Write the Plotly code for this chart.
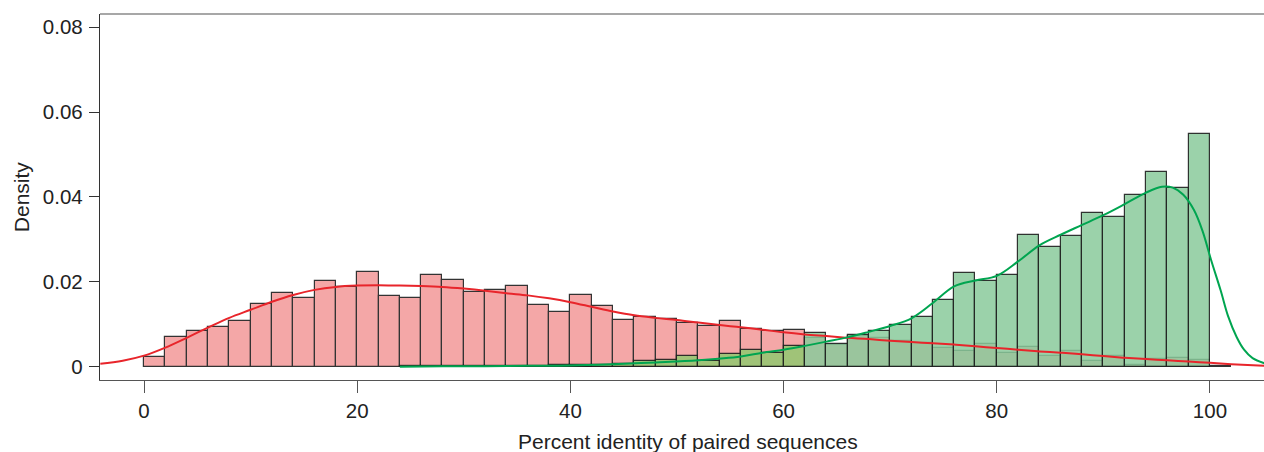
import plotly.graph_objects as go

# ---- data ----
bin_starts = list(range(0, 102, 2))  # 2-unit bins, 0..100
bin_width = 2

red_density = [0.0023, 0.0070, 0.0084, 0.0093, 0.0108, 0.0148, 0.0173, 0.0162, 0.0202, 0.0188,
               0.0224, 0.0166, 0.0162, 0.0217, 0.0204, 0.0177, 0.0180, 0.0189, 0.0145, 0.0129,
               0.0169, 0.0143, 0.0110, 0.0117, 0.0112, 0.0104, 0.0096, 0.0107, 0.0089, 0.0084,
               0.0086, 0.0068, 0.0050, 0.0072, 0.0068, 0.0061, 0.0056, 0.0044, 0.0037, 0.0053,
               0.0033, 0.0046, 0.0024, 0.0038, 0.0013, 0.0025, 0.0004, 0.0019, 0.0020, 0.0016,
               0.0002]

green_density = [None] * 12 + [
               0.0001, 0.0001, 0.0001, 0.0001, 0.0002, 0.0002, 0.0002, 0.0003,
               0.0004, 0.0004, 0.0006, 0.0013, 0.0015, 0.0024, 0.0014, 0.0029, 0.0039, 0.0033,
               0.0049, 0.0080, 0.0054, 0.0075, 0.0085, 0.0099, 0.0118, 0.0156, 0.0221, 0.0202,
               0.0217, 0.0311, 0.0282, 0.0307, 0.0363, 0.0352, 0.0405, 0.0458, 0.0420, 0.0548,
               None]

red_kde_x = [-4.1, -2, 0, 2, 4, 6, 8, 10, 12, 14, 16, 18, 20, 22, 24, 26, 28, 30, 32, 34, 36, 38,
             40, 42, 44, 46, 48, 50, 52, 54, 56, 58, 60, 62, 64, 66, 68, 70, 72, 74, 76, 78, 80,
             82, 84, 86, 88, 90, 92, 94, 96, 98, 100, 102, 105.1]
red_kde_y = [0.0007, 0.0014, 0.0026, 0.0045, 0.0068, 0.0092, 0.0115, 0.0134, 0.0153, 0.0169,
             0.0181, 0.0188, 0.0191, 0.0192, 0.0191, 0.0190, 0.0188, 0.0184, 0.0179, 0.0173,
             0.0168, 0.0161, 0.0152, 0.0141, 0.0130, 0.0121, 0.0115, 0.0110, 0.0104, 0.0098,
             0.0093, 0.0087, 0.0081, 0.0076, 0.0072, 0.0068, 0.0065, 0.0061, 0.0058, 0.0055,
             0.0052, 0.0048, 0.0044, 0.0040, 0.0036, 0.0033, 0.0029, 0.0025, 0.0021, 0.0018,
             0.0015, 0.0012, 0.0009, 0.0006, 0.0002]

green_kde_x = [24, 28, 32, 36, 40, 44, 48, 52, 56, 58, 60, 62, 64, 66, 68, 70, 72, 74, 76, 78,
               80, 82, 84, 86, 88, 90, 92, 94, 95.5, 96.5, 97.5, 98.5, 99.3, 100.1, 101, 101.7,
               102.5, 103.2, 104, 105.1]
green_kde_y = [0.0000, 0.0001, 0.0001, 0.0002, 0.0003, 0.0006, 0.0010, 0.0015, 0.0024, 0.0033,
               0.0040, 0.0049, 0.0059, 0.0069, 0.0082, 0.0096, 0.0114, 0.0150, 0.0189, 0.0203,
               0.0214, 0.0248, 0.0286, 0.0311, 0.0334, 0.0357, 0.0383, 0.0410, 0.0424, 0.0422,
               0.0405, 0.0369, 0.0320, 0.0252, 0.0180, 0.0119, 0.0070, 0.0040, 0.0020, 0.0008]

y_ticks = [0, 0.02, 0.04, 0.06, 0.08]
y_tick_labels = ["0", "0.02", "0.04", "0.06", "0.08"]
x_ticks = [0, 20, 40, 60, 80, 100]
x_tick_labels = ["0", "20", "40", "60", "80", "100"]

x_title = "Percent identity of paired sequences"
y_title = "Density"

# ---- figure ----
centers = [b + bin_width / 2 for b in bin_starts]
FONT = "Liberation Sans, Arial, Helvetica, sans-serif"

GREEN_FILL = "rgba(137,202,155,0.85)"   # green bar where it is the taller one
OLIVE_FILL = "rgba(145,200,112,0.85)"   # green bar drawn inside a taller red bar
green_fill = [OLIVE_FILL if (g is not None and g < r) else GREEN_FILL
              for g, r in zip(green_density, red_density)]

fig = go.Figure()
fig.add_trace(go.Bar(x=centers, y=red_density, width=bin_width,
                     marker=dict(color="#F4A7A7", line=dict(color="#333333", width=1.2)),
                     showlegend=False, hoverinfo="skip"))
fig.add_trace(go.Bar(x=centers, y=green_density, width=bin_width,
                     marker=dict(color=green_fill, line=dict(color="rgba(30,30,30,0.9)", width=1.2)),
                     showlegend=False, hoverinfo="skip"))
fig.add_trace(go.Scatter(x=red_kde_x, y=red_kde_y, mode="lines",
                         line=dict(color="#E8252B", width=2, shape="spline", smoothing=1.0),
                         showlegend=False, hoverinfo="skip"))
fig.add_trace(go.Scatter(x=green_kde_x, y=green_kde_y, mode="lines",
                         line=dict(color="#00A550", width=2, shape="spline", smoothing=1.0),
                         showlegend=False, hoverinfo="skip"))

fig.update_layout(
    width=1264, height=452,
    margin=dict(l=100, r=0, t=14, b=72),
    paper_bgcolor="white", plot_bgcolor="white",
    barmode="overlay", bargap=0,
    font=dict(family=FONT, size=20.5, color="#222222"),
    xaxis=dict(range=[-4.13, 105.07], tickvals=x_ticks, ticktext=x_tick_labels,
               showgrid=False, zeroline=False, showline=True, linecolor="#555555", linewidth=1.3,
               ticks="outside", ticklen=12, tickcolor="#555555", tickwidth=1.3,
               automargin=False),
    yaxis=dict(range=[-0.00314, 0.0831], tickvals=y_ticks, ticktext=y_tick_labels,
               showgrid=False, zeroline=False, showline=True, linecolor="#333333", linewidth=1.3,
               ticks="outside", ticklen=10, tickcolor="#333333", tickwidth=1.3,
               ticklabelstandoff=2, automargin=False),
    shapes=[dict(type="line", xref="paper", yref="paper", x0=0, x1=1, y0=1, y1=1,
                 line=dict(color="#8a8a8a", width=1.5))],
    annotations=[
        dict(text=x_title, xref="x", yref="paper", x=51.0, y=0, xanchor="center",
             yanchor="middle", yshift=-61.7, showarrow=False, font=dict(size=21)),
        dict(text=y_title, xref="paper", yref="paper", x=0, y=0.5008, xanchor="center",
             yanchor="middle", xshift=-78.5, textangle=-90, showarrow=False, font=dict(size=21)),
    ],
)

fig.write_html(
    "out.html",
    config={"displayModeBar": False},
    post_script="document.body.style.margin='0';document.body.style.overflow='hidden';",
)
